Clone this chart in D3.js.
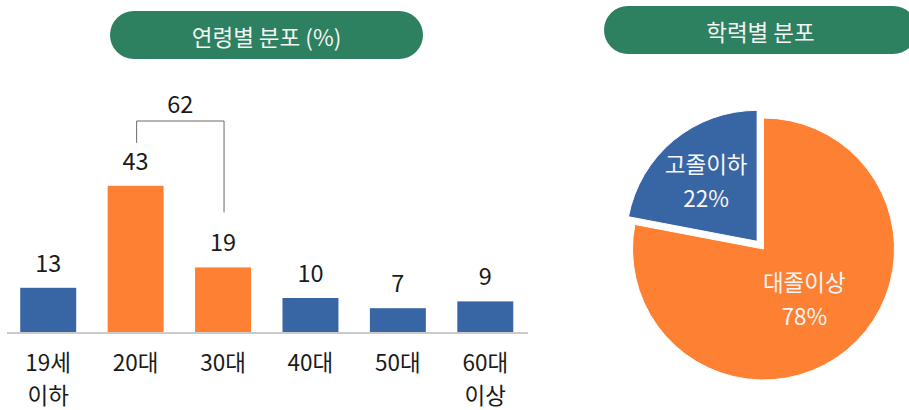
<!DOCTYPE html>
<html>
<head>
<meta charset="utf-8">
<script src="https://cdn.jsdelivr.net/npm/d3@7"></script>
<style>
  body { margin: 0; background: #fff; }
  text { font-family: "Noto Sans CJK KR", "Noto Sans", sans-serif; }
</style>
</head>
<body>
<div id="chart"></div>
<script>
// 연령별 분포 (%)
const ageCategories = ["19세\n이하", "20대", "30대", "40대", "50대", "60대\n이상"];
const ageValues = [13, 43, 19, 10, 7, 9];
const ageHighlight = ["20대", "30대"];   // 주황색 막대 + 합계 괄호

// 학력별 분포
const eduCategories = ["대졸이상", "고졸이하"];
const eduValues = [78, 22];

const titles = ["연령별 분포 (%)", "학력별 분포"];

const BLUE = "#3865a3", ORANGE = "#fe8033", GREEN = "#2d8060";

function createChart() {
    const width = 909, height = 410;
    const svg = d3.select("#chart").append("svg")
        .attr("width", width).attr("height", height);

    // 제목 알약
    const pills = [{x: 110, y: 11}, {x: 604, y: 6}];
    pills.forEach(function(p, i) {
        svg.append("rect")
            .attr("x", p.x).attr("y", p.y)
            .attr("width", 313).attr("height", 48)
            .attr("rx", 24).attr("fill", GREEN);
        svg.append("text")
            .attr("x", p.x + 156.5).attr("y", p.y + 25)
            .attr("text-anchor", "middle")
            .attr("dominant-baseline", "central")
            .attr("fill", "#f4f4f4")
            .style("font-size", "22.5px")
            .text(titles[i]);
    });

    // ----- 막대 차트 -----
    const x = d3.scaleBand()
        .domain(ageCategories)
        .range([4.5, 529])
        .paddingInner(0.36)
        .paddingOuter(0.18);

    const y = d3.scaleLinear()
        .domain([0, 50])
        .range([332, 162]);

    const isHi = function(c) { return ageHighlight.indexOf(c) >= 0; };

    svg.append("g").selectAll("rect")
        .data(ageCategories)
        .enter().append("rect")
        .attr("x", function(d) { return x(d); })
        .attr("y", function(d, i) { return y(ageValues[i]); })
        .attr("width", x.bandwidth())
        .attr("height", function(d, i) { return y(0) - y(ageValues[i]); })
        .attr("fill", function(d) { return isHi(d) ? ORANGE : BLUE; });

    svg.append("line")
        .attr("x1", 7).attr("x2", 528)
        .attr("y1", 333).attr("y2", 333)
        .attr("stroke", "#b8b8b8").attr("stroke-width", 1.5);

    // 값 레이블
    svg.append("g").selectAll("text")
        .data(ageCategories)
        .enter().append("text")
        .attr("x", function(d) { return x(d) + x.bandwidth() / 2; })
        .attr("y", function(d, i) { return y(ageValues[i]) - 16; })
        .attr("text-anchor", "middle")
        .attr("fill", "#1a1a1a")
        .style("font-size", "23.5px")
        .text(function(d, i) { return ageValues[i]; });

    // 범주 레이블 (두 줄)
    const cat = svg.append("g").selectAll("text")
        .data(ageCategories)
        .enter().append("text")
        .attr("x", function(d) { return x(d) + x.bandwidth() / 2; })
        .attr("y", 371)
        .attr("text-anchor", "middle")
        .attr("fill", "#1a1a1a")
        .style("font-size", "22.5px");
    cat.selectAll("tspan")
        .data(function(d) { return d.split("\n"); })
        .enter().append("tspan")
        .attr("x", function() { return d3.select(this.parentNode).attr("x"); })
        .attr("dy", function(d, i) { return i ? 33 : 0; })
        .text(function(d) { return d; });

    // 20대 + 30대 합계 괄호
    const hiIdx = ageHighlight.map(function(c) { return ageCategories.indexOf(c); });
    const total = d3.sum(hiIdx, function(i) { return ageValues[i]; });
    const bx1 = x(ageHighlight[0]) + x.bandwidth() / 2 + 1;
    const bx2 = x(ageHighlight[1]) + x.bandwidth() / 2 + 1;
    const by = 121;
    svg.append("path")
        .attr("d", "M" + bx1 + "," + (y(ageValues[hiIdx[0]]) - 43) +
                   "V" + by + "H" + bx2 +
                   "V" + (y(ageValues[hiIdx[1]]) - 55))
        .attr("fill", "none")
        .attr("stroke", "#6a6a6a").attr("stroke-width", 1);
    svg.append("text")
        .attr("x", (bx1 + bx2) / 2).attr("y", 113)
        .attr("text-anchor", "middle")
        .attr("fill", "#1a1a1a")
        .style("font-size", "23.5px")
        .text(total);

    // ----- 파이 차트 -----
    const cx = 763.5, cy = 249, r = 131;
    const pie = d3.pie().sort(null).value(function(d) { return d; });
    const arcs = pie(eduValues);
    const arc = d3.arc().innerRadius(0).outerRadius(r);
    const explode = [0, 10];
    const labelR = [64, 80];
    const colors = [ORANGE, BLUE];

    const g = svg.append("g").attr("transform", "translate(" + cx + "," + cy + ")");

    const slice = g.selectAll("g.slice")
        .data(arcs)
        .enter().append("g")
        .attr("class", "slice")
        .attr("transform", function(d, i) {
            const a = (d.startAngle + d.endAngle) / 2;
            return "translate(" + (Math.sin(a) * explode[i]) + "," + (-Math.cos(a) * explode[i]) + ")";
        });

    slice.append("path")
        .attr("d", arc)
        .attr("fill", function(d, i) { return colors[i]; })
        .attr("stroke", "#fff").attr("stroke-width", 1);

    const lbl = slice.append("text")
        .attr("transform", function(d, i) {
            const a = (d.startAngle + d.endAngle) / 2;
            return "translate(" + (Math.sin(a) * labelR[i]) + "," + (-Math.cos(a) * labelR[i]) + ")";
        })
        .attr("text-anchor", "middle")
        .attr("fill", "#f6f6f6")
        .style("font-size", "22.5px");
    lbl.append("tspan")
        .attr("x", 0).attr("y", -17)
        .attr("dominant-baseline", "central")
        .text(function(d, i) { return eduCategories[i]; });
    lbl.append("tspan")
        .attr("x", 0).attr("y", 17)
        .attr("dominant-baseline", "central")
        .text(function(d) { return d.value + "%"; });
}

document.addEventListener("DOMContentLoaded", createChart);
</script>
</body>
</html>
